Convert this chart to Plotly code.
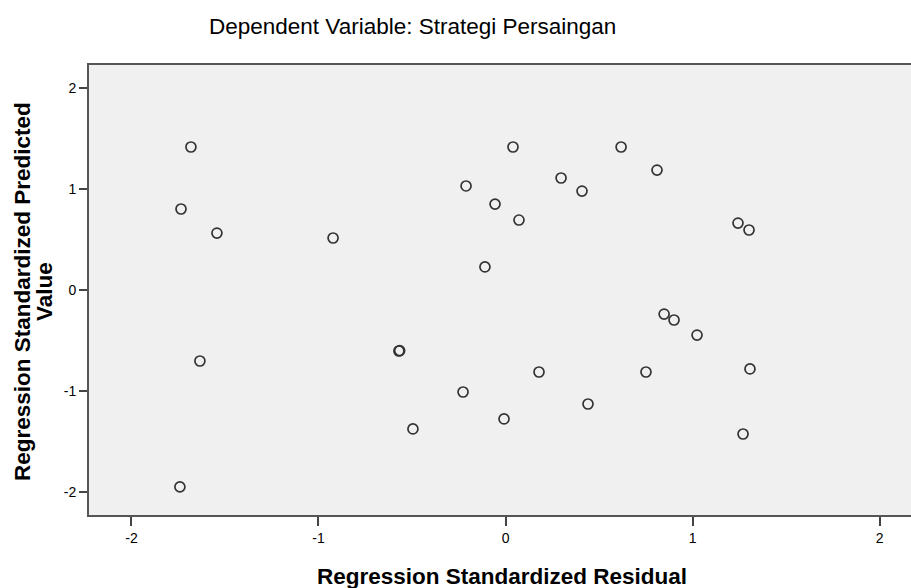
import plotly.graph_objects as go

residual = [-1.682, -1.735, -1.543, -1.634, -1.741, -0.922, -0.570, -0.566, -0.495, -0.227,
            -0.008, 0.179, 0.441, 0.751, -0.211, 0.040, -0.056, 0.072, -0.110, 0.297,
            0.409, 0.618, 0.810, 1.243, 1.302, 0.848, 0.901, 1.024, 1.307, 1.270]
predicted = [1.416, 0.802, 0.564, -0.703, -1.950, 0.515, -0.604, -0.600, -1.376, -1.010,
             -1.277, -0.812, -1.129, -0.812, 1.030, 1.416, 0.851, 0.693, 0.228, 1.109,
             0.980, 1.416, 1.188, 0.663, 0.594, -0.238, -0.297, -0.446, -0.782, -1.426]
tick_vals = [-2, -1, 0, 1, 2]
tick_text = ["-2", "-1", "0", "1", "2"]

title_text = "Dependent Variable: Strategi Persaingan"
x_title = "Regression Standardized Residual"
y_title_lines = ["Regression Standardized Predicted", "Value"]

font = "Liberation Sans, Arial, sans-serif"

# plot area spans pixels 89..911 horizontally, 65..515 vertically
PL, PR = 89, 911

fig = go.Figure()
fig.add_trace(go.Scatter(
    x=residual, y=predicted, mode="markers",
    marker=dict(symbol="circle-open", size=10, color="#333333", line=dict(width=1.7)),
    hoverinfo="x+y", showlegend=False,
))

fig.update_layout(
    width=911, height=588,
    margin=dict(l=89, r=0, t=65, b=73),
    paper_bgcolor="white", plot_bgcolor="#f0f0f0",
    font=dict(family=font, color="#000000", size=14),
)
fig.add_annotation(text=title_text, x=(412 - PL) / (PR - PL), xref="paper",
                   y=1, yref="paper", yshift=39, showarrow=False, yanchor="middle",
                   font=dict(size=22.5, family=font, color="#000000"), xanchor="center")
fig.add_annotation(text="<b>" + x_title + "</b>", x=(502 - PL) / (PR - PL), xref="paper",
                   y=0, yref="paper", yshift=-61, showarrow=False, yanchor="middle",
                   font=dict(size=22.5, family=font, color="#000000"), xanchor="center")
for line, shift in zip(y_title_lines, [-67, -45]):
    fig.add_annotation(text="<b>" + line + "</b>", x=0, xref="paper", xshift=shift,
                       y=0.5, yref="paper", yshift=-2, textangle=-90, showarrow=False,
                       font=dict(size=22.5, family=font, color="#000000"),
                       xanchor="center", yanchor="middle")

fig.update_xaxes(range=[-2.227, 2.168], tickvals=tick_vals, ticktext=tick_text, ticks="outside", ticklen=9,
                 tickwidth=2, tickcolor="#444444", showline=True, linewidth=2, linecolor="#555555",
                 mirror=True, showgrid=False, zeroline=False, automargin=False,
                 tickfont=dict(size=14, family=font, color="#000000"))
fig.update_yaxes(range=[-2.228, 2.228], tickvals=tick_vals, ticktext=tick_text, ticks="outside", ticklen=8,
                 tickwidth=2, tickcolor="#444444", showline=True, linewidth=2, linecolor="#555555",
                 mirror=False, showgrid=False, zeroline=False, automargin=False,
                 tickfont=dict(size=14, family=font, color="#000000"))

fig.write_html("out.html", config={"displayModeBar": False},
               post_script="document.body.style.margin='0';document.body.style.overflow='hidden';")
